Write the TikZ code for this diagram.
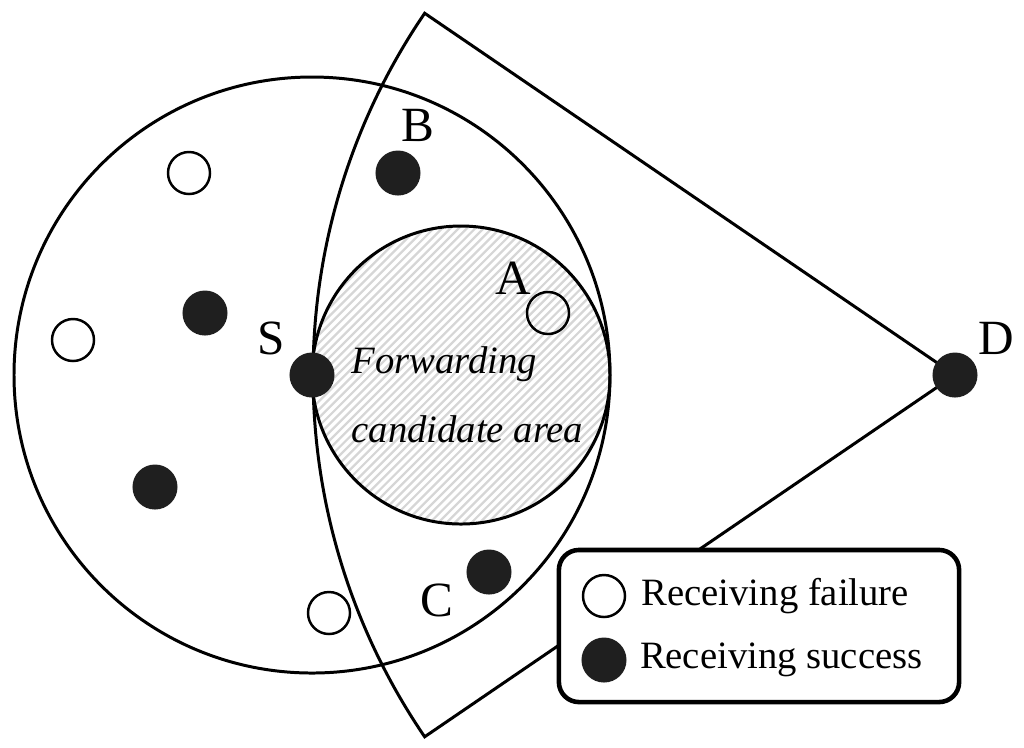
\documentclass[tikz,border=0pt]{standalone}
\usepackage{fontspec}
\setmainfont{Liberation Serif}
\usetikzlibrary{positioning}

\begin{document}
\begin{tikzpicture}[x=0.01cm,y=-0.01cm,line width=0.85pt,
			node distance=0.12cm,
			lbl/.style={font=\fontsize{14}{16}\selectfont,inner sep=0pt},
			txt/.style={font=\fontsize{11}{13}\selectfont,inner sep=0pt},
			fail/.style={circle,draw,line width=0.7pt,minimum size=0.42cm,inner sep=0pt,outer sep=0pt},
			succ/.style={circle,fill=black!88,minimum size=0.45cm,inner sep=0pt,outer sep=0pt},
			hatchline/.style={gray!32,line width=0.65pt}]
			\useasboundingbox (0,0) rectangle (1024,747);
			
			\coordinate (s) at (312,375);
			\coordinate (m) at (461,375);
			\coordinate (d) at (955,375);
			
			% forwarding candidate area
			\begin{scope}
				\clip (m) circle[radius=149];
				\foreach \k in {-232,-223.7,...,232}
					\draw[hatchline] (461+\k-170,545) -- ++(340,-340);
			\end{scope}
			\draw (m) circle[radius=149];
			\draw (s) circle[radius=298];
			\draw (d) ++(214.3:642) arc[start angle=214.3, end angle=145.7, radius=642] -- (d) -- cycle;
			
			\node[succ] (S) at (s) {};
			\node[succ] (D) at (d) {};
			\node[succ] (B) at (398,173) {};
			\node[succ] (C) at (489,572) {};
			\node[fail] (A) at (548,313) {};
			\node[fail] (n1) at (189,173) {};
			\node[fail] (n2) at (73,340) {};
			\node[fail] (n3) at (329,613) {};
			\node[succ] (n4) at (205,313) {};
			\node[succ] (n5) at (155,487) {};
			
			\node[lbl] (lS) at (271,338) {S};
			\node[lbl] (lB) at (418,125) {B};
			\node[lbl] (lA) at (513,278) {A};
			\node[lbl] (lC) at (437,600) {C};
			\node[lbl] (lD) at (996,338) {D};
			\node[txt,anchor=base west,align=left,font=\fontsize{11}{19.6}\selectfont\itshape]
				(area) at (350,442) {Forwarding\\candidate area};
			
			% legend
			\node[draw,rounded corners=0.2cm,line width=1.3pt,fill=white,
				minimum width=4cm,minimum height=1.52cm] (legend) at (759,626) {};
			\node[fail] (kf) at (604,596) {};
			\node[succ] (ks) at (604,660) {};
			\node[txt,right=0.15cm of kf] (tf) {Receiving failure};
			\node[txt,right=of ks] (ts) {Receiving success};
\end{tikzpicture}
\end{document}
